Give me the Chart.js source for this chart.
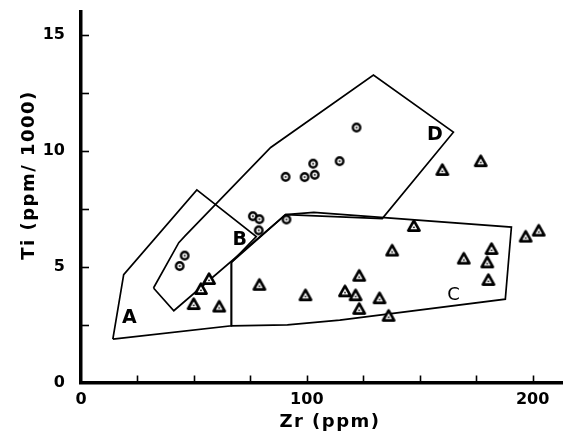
<!DOCTYPE html>
<html>
<head>
<meta charset="utf-8">
<script src="https://cdn.jsdelivr.net/npm/chart.js@4.4.0/dist/chart.umd.min.js"></script>
<style>
    html, body { margin: 0; padding: 0; background: #fff; }
    #wrap { position: relative; width: 569px; height: 436px; }
</style>
</head>
<body>
<div id="wrap"><canvas id="tiZrChart"></canvas></div>
<script>
// Ti vs Zr discrimination diagram

// circles
const circleZr = [43.7, 45.9, 76.1, 79.0, 78.7, 90.6, 91.0, 99.0, 102.8, 103.5, 114.5, 122.0];
const circleTi = [5.03, 5.48, 7.18, 7.05, 6.57, 8.88, 7.04, 8.87, 9.45, 8.97, 9.56, 11.01];

// triangles
const triangleZr = [49.9, 53.1, 56.7, 61.2, 79.0, 99.4, 116.9, 121.6, 123.2, 123.2, 132.2,
    136.2, 137.8, 147.4, 160.0, 169.5, 177.0, 179.9, 180.4, 181.8, 196.9, 202.7];
const triangleTi = [3.39, 4.04, 4.47, 3.28, 4.22, 3.77, 3.94, 3.77, 4.61, 3.18, 3.64,
    2.88, 5.70, 6.76, 9.18, 5.35, 9.56, 5.19, 4.43, 5.77, 6.30, 6.56];

// field outlines (vertices, in order)
const fieldAZr = [14.1, 18.9, 51.3, 77.6, 66.6, 66.6];
const fieldATi = [1.87, 4.66, 8.32, 6.30, 5.19, 2.45];
const fieldCZr = [66.6, 90.6, 103.1, 190.6, 187.9, 114.6, 91.4, 66.6];
const fieldCTi = [5.19, 7.25, 7.35, 6.71, 3.60, 2.69, 2.49, 2.45];
const fieldDZr = [32.1, 41.1, 90.6, 133.4, 164.9, 129.5, 84.0, 46.2, 43.3];
const fieldDTi = [4.08, 3.10, 7.25, 7.08, 10.81, 13.28, 10.15, 6.34, 6.04];

// field letters
const fieldNames = ['A', 'B', 'C', 'D'];
const fieldNameZr = [21.4, 70.3, 165.0, 156.7];
const fieldNameTi = [2.79, 6.17, 3.75, 10.67];

// axes
const zrTickLabels = [0, 100, 200];
const tiTickLabels = [0, 5, 10, 15];

const FONT = "'DejaVu Sans', 'Liberation Sans', sans-serif";

function toPoints(xs, ys) {
    return xs.map((x, i) => ({ x: x, y: ys[i] }));
}

function closedOutline(xs, ys) {
    const pts = toPoints(xs, ys);
    pts.push({ ...pts[0] });
    return pts;
}

// ring with a dot in the middle
function makeRingMarker() {
    const c = document.createElement('canvas');
    c.width = 12;
    c.height = 12;
    const g = c.getContext('2d');
    g.fillStyle = '#fff';
    g.beginPath();
    g.arc(6, 6, 3.7, 0, Math.PI * 2);
    g.fill();
    g.lineWidth = 2.4;
    g.strokeStyle = '#000';
    g.stroke();
    g.fillStyle = '#000';
    g.beginPath();
    g.arc(6, 6, 0.9, 0, Math.PI * 2);
    g.fill();
    return c;
}

// open triangle with a dot in the middle
function makeTriangleMarker() {
    const c = document.createElement('canvas');
    c.width = 16;
    c.height = 16;
    const g = c.getContext('2d');
    g.beginPath();
    g.moveTo(8, 2.6);
    g.lineTo(13.6, 12.6);
    g.lineTo(2.4, 12.6);
    g.closePath();
    g.fillStyle = '#fff';
    g.fill();
    g.lineWidth = 2.7;
    g.lineJoin = 'round';
    g.strokeStyle = '#000';
    g.stroke();
    g.fillStyle = '#000';
    g.beginPath();
    g.arc(8, 9.3, 0.9, 0, Math.PI * 2);
    g.fill();
    return c;
}

const outlineStyle = {
    showLine: true,
    borderColor: '#000',
    borderWidth: 1.7,
    pointRadius: 0,
    fill: false,
    tension: 0,
    order: 2
};

// short tick marks pointing into the plot
const innerTicks = {
    id: 'innerTicks',
    afterDraw(chart) {
        const { ctx, chartArea, scales } = chart;
        ctx.save();
        ctx.strokeStyle = '#000';
        ctx.lineWidth = 1.6;
        scales.x.ticks.forEach(t => {
            if (t.value === 0) return;
            const px = Math.round(scales.x.getPixelForValue(t.value)) + 0.5;
            ctx.beginPath();
            ctx.moveTo(px, chartArea.bottom);
            ctx.lineTo(px, chartArea.bottom - 7);
            ctx.stroke();
        });
        scales.y.ticks.forEach(t => {
            if (t.value === 0) return;
            const py = Math.round(scales.y.getPixelForValue(t.value)) + 0.5;
            ctx.beginPath();
            ctx.moveTo(chartArea.left, py);
            ctx.lineTo(chartArea.left + 8, py);
            ctx.stroke();
        });
        ctx.restore();
    }
};

// axis titles and field letters
const annotations = {
    id: 'annotations',
    afterDraw(chart) {
        const { ctx, scales } = chart;
        ctx.save();
        ctx.fillStyle = '#000';
        ctx.textAlign = 'center';
        ctx.textBaseline = 'middle';

        fieldNames.forEach((name, i) => {
            ctx.font = name === 'C' ? `18px ${FONT}` : `bold 19px ${FONT}`;
            ctx.fillText(name, scales.x.getPixelForValue(fieldNameZr[i]),
                scales.y.getPixelForValue(fieldNameTi[i]));
        });

        ctx.font = `bold 18px ${FONT}`;
        ctx.letterSpacing = '1.5px';
        ctx.fillText('Zr (ppm)', 330, 422);

        ctx.translate(29, 175);
        ctx.rotate(-Math.PI / 2);
        ctx.fillText('Ti (ppm/ 1000)', 0, 0);
        ctx.restore();
    }
};

const ctx = document.getElementById('tiZrChart').getContext('2d');

new Chart(ctx, {
    type: 'scatter',
    data: {
        datasets: [
            {
                label: 'circles',
                data: toPoints(circleZr, circleTi),
                pointStyle: makeRingMarker(),
                pointRadius: 5,
                order: 1
            },
            {
                label: 'triangles',
                data: toPoints(triangleZr, triangleTi),
                pointStyle: makeTriangleMarker(),
                pointRadius: 6,
                order: 1
            },
            { label: 'A', data: closedOutline(fieldAZr, fieldATi), ...outlineStyle },
            { label: 'C', data: closedOutline(fieldCZr, fieldCTi), ...outlineStyle },
            { label: 'D', data: closedOutline(fieldDZr, fieldDTi), ...outlineStyle }
        ]
    },
    options: {
        responsive: true,
        maintainAspectRatio: false,
        animation: false,
        devicePixelRatio: 1,
        layout: {
            padding: { top: 12, right: 1, left: 0, bottom: 0 }
        },
        plugins: {
            legend: { display: false },
            tooltip: { enabled: false }
        },
        scales: {
            x: {
                type: 'linear',
                min: 0,
                max: 213,
                grid: { display: false },
                border: { display: true, color: '#000', width: 3.5 },
                afterFit: scale => {
                    scale.height = 53.5;
                    scale.paddingLeft = 0;
                    scale.paddingRight = 0;
                },
                ticks: {
                    stepSize: 25,
                    includeBounds: false,
                    autoSkip: false,
                    maxRotation: 0,
                    padding: 0,
                    color: '#000',
                    font: { family: FONT, size: 16, weight: 'bold' },
                    callback: v => zrTickLabels.includes(v) ? String(v) : ''
                }
            },
            y: {
                type: 'linear',
                min: 0,
                max: 16,
                grid: { display: false },
                border: { display: true, color: '#000', width: 3.5 },
                afterFit: scale => {
                    scale.width = 81;
                    scale.paddingTop = 0;
                    scale.paddingBottom = 0;
                },
                ticks: {
                    stepSize: 2.5,
                    includeBounds: false,
                    autoSkip: false,
                    padding: 8,
                    color: '#000',
                    font: { family: FONT, size: 16, weight: 'bold' },
                    callback: v => tiTickLabels.includes(v) ? String(v) : ''
                }
            }
        }
    },
    plugins: [innerTicks, annotations]
});
</script>
</body>
</html>
